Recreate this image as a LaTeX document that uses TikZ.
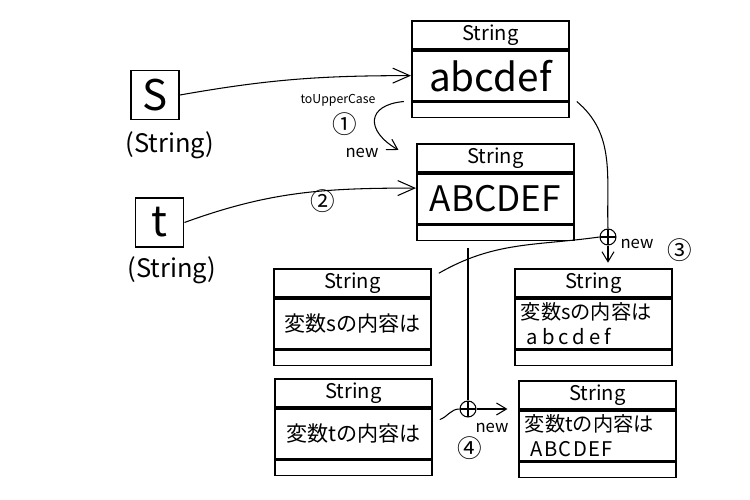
\documentclass[tikz,border=0pt]{standalone}
\usepackage{fontspec}
\setmainfont{Noto Sans CJK JP}
\usetikzlibrary{arrows.meta,positioning,calc}
\tikzset{
  strhead/.style={draw, line width=1pt, minimum width=3.14cm, minimum height=0.56cm,
    inner sep=0pt, anchor=north west, font=\fontsize{11.5}{14}\selectfont},
  strbody/.style={draw, line width=1pt, minimum width=3.14cm, minimum height=1.0cm,
    inner sep=2pt, font=\fontsize{12}{14}\selectfont},
  strfoot/.style={draw, line width=1pt, minimum width=3.14cm, minimum height=0.3cm, inner sep=0pt},
  varbox/.style={draw, line width=1.1pt, minimum width=0.96cm, minimum height=0.98cm,
    inner sep=0pt, font=\fontsize{24}{26}\selectfont},
  refln/.style={-{Straight Barb[length=3.4mm,width=3mm]}, line width=0.6pt},
  stepln/.style={-{Straight Barb[length=2mm,width=2.4mm]}, line width=0.6pt},
  joinln/.style={line width=0.6pt},
  plusc/.style={circle, draw, line width=0.6pt, minimum size=0.32cm, inner sep=0pt,
    path picture={\draw (path picture bounding box.north) -- (path picture bounding box.south)
      (path picture bounding box.west) -- (path picture bounding box.east);}},
  note/.style={font=\fontsize{9.5}{10}\selectfont},
  numc/.style={font=\fontsize{14}{15}\selectfont},
  typelbl/.style={font=\fontsize{14.5}{16}\selectfont},
}
% a String object: header, value, empty slot
\newcommand{\strobj}[4][]{%
  \node[strhead] (#2-h) at #3 {String};
  \node[strbody, below=0pt of #2-h, #1] (#2) {#4};
  \node[strfoot, below=0pt of #2] (#2-f) {};
}

\begin{document}
\begin{tikzpicture}
    \useasboundingbox (0,0) rectangle (15,-10);
    % Variables
    \node[varbox] (s) at (3.10,-1.90) {S};
    \node[typelbl] (sType) at (3.40,-2.90) {(String)};
    \node[varbox] (t) at (3.19,-4.45) {t};
    \node[typelbl] (tType) at (3.44,-5.40) {(String)};
    % String objects
    \strobj[font=\fontsize{22}{24}\selectfont]{abc}{(8.22,-0.40)}{abcdef}
    \strobj[font=\fontsize{20}{22}\selectfont]{ABC}{(8.32,-2.86)}{ABCDEF}
    \strobj{ls}{(5.46,-5.36)}{変数sの内容は}
    \strobj{lt}{(5.48,-7.56)}{変数tの内容は}
    \strobj[text width=2.9cm, align=left, inner xsep=0.12cm, font=\fontsize{11.5}{14}\selectfont]
      {rs}{(10.28,-5.36)}{変数sの内容は\\\hspace*{0.3em}{\addfontfeature{LetterSpace=20}abcdef}}
    \strobj[text width=2.9cm, align=left, inner xsep=0.12cm, font=\fontsize{11.5}{14}\selectfont]
      {rt}{(10.36,-7.60)}{変数tの内容は\\\hspace*{0.3em}{\addfontfeature{LetterSpace=6}ABCDEF}}
    % References
    \draw[refln] (s.east) to[out=10, in=180] (abc.west);
    \draw[refln] (t.east) to[out=20, in=180] ([yshift=6pt]ABC.west);
    \node[numc] (n2) at (6.46,-4.02) {②};
    % toUpperCase
    \draw[stepln] ([xshift=-4pt]abc-f.north west)
      to[out=185, in=150, looseness=2] ([xshift=-10pt,yshift=4.5pt]ABC-h.west);
    \node[font=\fontsize{7}{8}\selectfont] (upper) at (6.76,-2.00) {toUpperCase};
    \node[numc] (n1) at (6.90,-2.48) {①};
    \node[note] (new1) at (7.24,-3.06) {new};
    % Concatenation 3
    \node[plusc] (plus3) at (12.16,-4.74) {};
    \draw[joinln] ([xshift=4pt]abc-f.north east) to[out=-40, in=92] (plus3.north);
    \draw[joinln] ([xshift=4pt,yshift=-3pt]ls-h.north east) to[out=30, in=188] (plus3.west);
    \draw[stepln, shorten >=3pt] (plus3.south) -- (plus3.south |- rs-h.north);
    \node[note] (new3) at (12.74,-4.88) {new};
    \node[numc] (n3) at (13.60,-5.00) {③};
    % Concatenation 4
    \node[plusc] (plus4) at (9.36,-8.18) {};
    \draw[joinln, shorten <=4pt] (plus4.north |- ABC-f.south) -- (plus4.north);
    \draw[joinln] ([xshift=4pt,yshift=8pt]lt.east) to[out=20, in=180] (plus4.west);
    \draw[stepln, shorten >=6pt] (plus4.east) -- (plus4 -| rt.west);
    \node[note] (new4) at (9.84,-8.56) {new};
    \node[numc] (n4) at (9.40,-8.96) {④};
\end{tikzpicture}
\end{document}
